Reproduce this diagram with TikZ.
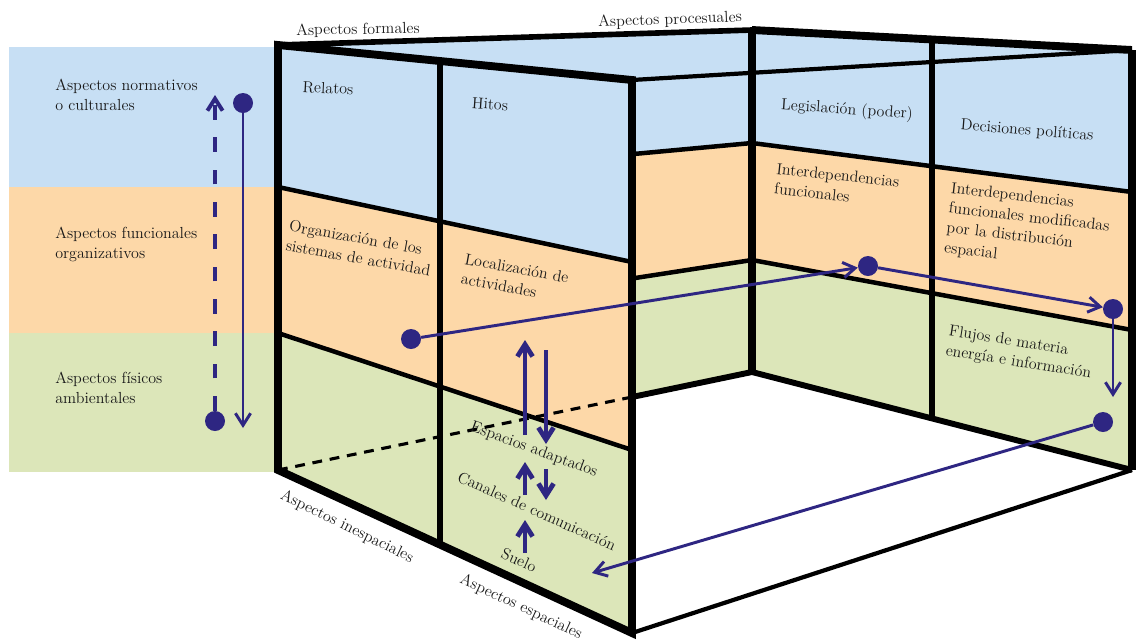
\documentclass[tikz,border=0pt]{standalone}
\usetikzlibrary{arrows.meta}

\definecolor{bandblue}{RGB}{199,223,244}
\definecolor{bandorange}{RGB}{253,216,168}
\definecolor{bandgreen}{RGB}{220,230,185}
\definecolor{flowblue}{RGB}{46,38,130}

\begin{document}
\begin{tikzpicture}[
    x=0.025cm, y=-0.025cm,
    % Styles
    frame_line/.style={line width=5.6pt},
    band_line/.style={line width=3.2pt},
    divider/.style={line width=4.2pt},
    txt/.style={font=\fontsize{11.4}{14.2}\selectfont, align=left, inner sep=0pt, text=black!90},
    flow_dot/.style={circle, fill=flowblue, minimum size=0.5cm, inner sep=0pt},
    arrow/.style={-{Straight Barb[length=3mm, width=3.8mm]}, line width=2.1pt, flowblue},
    step_arrow/.style={-{Straight Barb[length=3mm, width=3.8mm]}, line width=3.4pt, flowblue}
]
    \useasboundingbox (0,0) rectangle (1136,641);

    % 1. LEGEND STRIP
    \fill[bandblue] (9,47) rectangle (278,187);
    \fill[bandorange] (9,187) rectangle (278,333);
    \fill[bandgreen] (9,333) rectangle (278,472);

    % 2. CORNERS OF THE BOX
    % front wall
    \coordinate (fw_tl) at (278,45);
    \coordinate (fw_tr) at (632,80);
    \coordinate (fw_bl) at (278,470);
    \coordinate (fw_br) at (632,633);
    \coordinate (fw_l1) at (278,187);
    \coordinate (fw_l2) at (278,333);
    \coordinate (fw_r1) at (632,262);
    \coordinate (fw_r2) at (632,450);
    % far side wall
    \coordinate (sw_tr) at (752,30);
    \coordinate (sw_r1) at (752,143);
    \coordinate (sw_r2) at (752,260);
    \coordinate (sw_br) at (752,372);
    % back wall
    \coordinate (bw_tr) at (1132,50);
    \coordinate (bw_r1) at (1132,192);
    \coordinate (bw_r2) at (1132,330);
    \coordinate (bw_br) at (1132,470);
    % floor edge seen past the front wall
    \coordinate (floor_mid) at (632,397);

    % 3. FAR SIDE WALL AND BACK WALL
    \fill[bandblue] (fw_tl) -- (sw_tr) -- (sw_r1) -- (fw_l1) -- cycle;
    \fill[bandorange] (fw_l1) -- (sw_r1) -- (sw_r2) -- (fw_l2) -- cycle;
    \fill[bandgreen] (fw_l2) -- (sw_r2) -- (sw_br) -- (fw_bl) -- cycle;
    \fill[bandblue] (sw_tr) -- (bw_tr) -- (bw_r1) -- (sw_r1) -- cycle;
    \fill[bandorange] (sw_r1) -- (bw_r1) -- (bw_r2) -- (sw_r2) -- cycle;
    \fill[bandgreen] (sw_r2) -- (bw_r2) -- (bw_br) -- (sw_br) -- cycle;

    \draw[band_line] (fw_l1) -- (sw_r1) -- (bw_r1);
    \draw[band_line] (fw_l2) -- (sw_r2) -- (bw_r2);
    \draw[line width=4pt] (fw_tl) -- (sw_tr);
    \draw[frame_line] (sw_tr) -- (bw_tr);
    \draw[frame_line] (sw_tr) -- (sw_br);
    \draw[frame_line] (bw_tr) -- (bw_br);
    \draw[line width=4.2pt] (floor_mid) -- (sw_br) -- (bw_br);
    \draw[divider] (932,39) -- (932,418);

    % 4. FRONT WALL
    \fill[bandblue] (fw_tl) -- (fw_tr) -- (fw_r1) -- (fw_l1) -- cycle;
    \fill[bandorange] (fw_l1) -- (fw_r1) -- (fw_r2) -- (fw_l2) -- cycle;
    \fill[bandgreen] (fw_l2) -- (fw_r2) -- (fw_br) -- (fw_bl) -- cycle;
    \draw[band_line] (fw_l1) -- (fw_r1);
    \draw[band_line] (fw_l2) -- (fw_r2);
    \draw[divider] (440,61) -- (440,544);
    \draw[frame_line] (fw_tl) -- (fw_tr) -- (fw_br) -- (fw_bl) -- cycle;

    % open side and hidden floor edge
    \draw[line width=3pt] (fw_tr) -- (bw_tr);
    \draw[line width=3pt] (fw_br) -- (bw_br);
    \draw[line width=2.2pt, dash pattern=on 7pt off 5.5pt] (fw_bl) -- (floor_mid);

    % 5. LABELS
    \node[txt, anchor=north west] (leg_normativos) at (55,79) {Aspectos normativos\\o culturales};
    \node[txt, anchor=north west] (leg_funcionales) at (55,227) {Aspectos funcionales\\organizativos};
    \node[txt, anchor=north west] (leg_fisicos) at (55,372) {Aspectos físicos\\ambientales};

    \node[txt, rotate=1] (txt_formales) at (358,30) {Aspectos formales};
    \node[txt, rotate=2] (txt_procesuales) at (670,20) {Aspectos procesuales};
    \node[txt, rotate=-3] (txt_relatos) at (328,88) {Relatos};
    \node[txt, rotate=-4] (txt_hitos) at (490,104) {Hitos};
    \node[txt, rotate=-4] (txt_legislacion) at (847,110) {Legislación (poder)};
    \node[txt, rotate=-4.5] (txt_decisiones) at (1027,131) {Decisiones políticas};
    \node[txt, rotate=-10] (txt_organizacion) at (360,248) {Organización de los\\sistemas de actividad};
    \node[txt, rotate=-10.5] (txt_localizacion) at (515,278) {Localización de\\actividades};
    \node[txt, rotate=-6] (txt_interdep) at (837,185) {Interdependencias\\funcionales};
    \node[txt, rotate=-6.5] (txt_interdep_mod) at (1028,228) {Interdependencias\\funcionales modificadas\\por la distribución\\espacial};
    \node[txt, rotate=-9] (txt_flujos) at (1020,353) {Flujos de materia\\energía e información};
    \node[txt, rotate=-20] (txt_espacios) at (534,450) {Espacios adaptados};
    \node[txt, rotate=-24] (txt_canales) at (537,511) {Canales de comunicación};
    \node[txt, rotate=-24] (txt_suelo) at (519,560) {Suelo};
    \node[txt, rotate=-26] (txt_inespaciales) at (347,527) {Aspectos inespaciales};
    \node[txt, rotate=-25] (txt_espaciales) at (521,607) {Aspectos espaciales};

    % 6. FLOWS
    % legend: down and back up
    \node[flow_dot] (dot_down) at (243,103) {};
    \coordinate (tip_down) at (243,428);
    \draw[arrow] (dot_down) -- (tip_down);
    \node[flow_dot] (dot_up) at (215,421) {};
    \coordinate (tip_up) at (215,95);
    \draw[arrow, line width=2.8pt, dash pattern=on 10.5pt off 12.5pt] (dot_up) -- (tip_up);

    % through the walls
    \node[flow_dot] (dot_org) at (411,339) {};
    \node[flow_dot] (dot_interdep) at (868,266) {};
    \node[flow_dot] (dot_mod) at (1113,309) {};
    \node[flow_dot] (dot_flujos) at (1103,422) {};
    \coordinate (tip_flujos) at (1113,397);
    \coordinate (tip_suelo) at (592,573);
    \draw[arrow] (dot_org) -- (dot_interdep);
    \draw[arrow] (dot_interdep) -- (dot_mod);
    \draw[arrow] (dot_mod) -- (tip_flujos);
    \draw[arrow] (dot_flujos) -- (tip_suelo);

    % up and down between the layers
    \coordinate (esp_up_a) at (525,435);
    \coordinate (esp_up_b) at (525,340);
    \coordinate (esp_dn_a) at (546,350);
    \coordinate (esp_dn_b) at (546,444);
    \coordinate (can_up_a) at (525,495);
    \coordinate (can_up_b) at (525,462);
    \coordinate (can_dn_a) at (546,469);
    \coordinate (can_dn_b) at (546,500);
    \coordinate (sue_up_a) at (525,553);
    \coordinate (sue_up_b) at (525,520);
    \draw[step_arrow] (esp_up_a) -- (esp_up_b);
    \draw[step_arrow] (esp_dn_a) -- (esp_dn_b);
    \draw[step_arrow] (can_up_a) -- (can_up_b);
    \draw[step_arrow] (can_dn_a) -- (can_dn_b);
    \draw[step_arrow] (sue_up_a) -- (sue_up_b);

\end{tikzpicture}
\end{document}
